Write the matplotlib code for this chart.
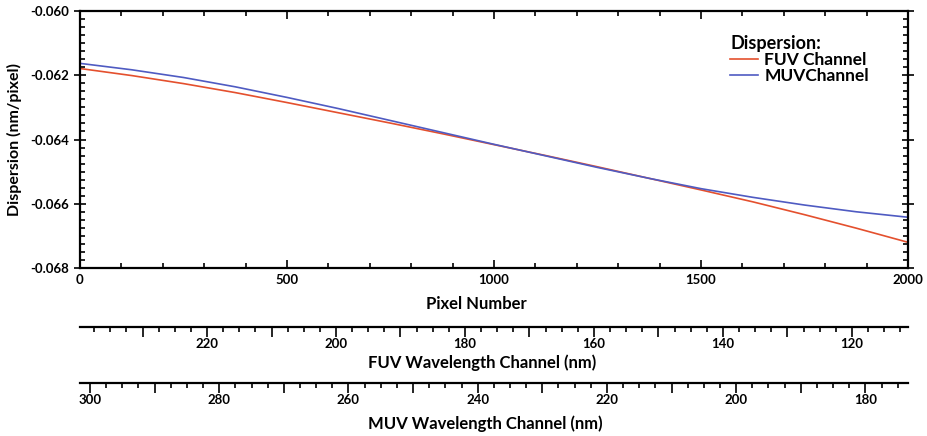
import numpy as np
import matplotlib
matplotlib.use('Agg')
import matplotlib.pyplot as plt
from matplotlib.ticker import MultipleLocator, FormatStrFormatter, FuncFormatter

plt.rcParams['font.family'] = ['Lato', 'DejaVu Sans']
plt.rcParams['font.weight'] = 'bold'

# ------------ data ------------------------------------------ #
pixel = [0, 125, 250, 375, 500, 625, 750, 875, 1000, 1125, 1250, 1375, 1500, 1625, 1750, 1875, 2000]
disp_fuv = [-0.06179, -0.06201, -0.06226, -0.06254, -0.06285, -0.06317, -0.06349, -0.06382, -0.06416,
            -0.06450, -0.06485, -0.06521, -0.06557, -0.06594, -0.06634, -0.06676, -0.06720]
disp_muv = [-0.06163, -0.06183, -0.06207, -0.06236, -0.06269, -0.06304, -0.06341, -0.06378, -0.06415,
            -0.06451, -0.06487, -0.06521, -0.06553, -0.06580, -0.06604, -0.06625, -0.06642]

# wavelength at pixel 0 and pixel 2000 for the two extra axes
fuv_wl_range = [239.7, 111.3]
muv_wl_range = [301.55, 173.4]

labels = ['FUV Channel', 'MUVChannel']
colors = ['#e4502e', '#4f5bc2']
# ------------------------------------------------------------ #

fig = plt.figure(figsize=(9.27, 4.36), dpi=100)
W, H = 927, 436
x0, x1 = 80/W, 908/W
ax = fig.add_axes([x0, 1-268/H, x1-x0, (268-11)/H])

ax.plot(pixel, disp_fuv, c=colors[0], lw=1.2, label=labels[0])
ax.plot(pixel, disp_muv, c=colors[1], lw=1.2, label=labels[1])
ax.set(xlim=(0, 2000), ylim=(-0.068, -0.060))
ax.xaxis.set_major_locator(MultipleLocator(500))
ax.xaxis.set_minor_locator(MultipleLocator(100))
ax.yaxis.set_major_locator(MultipleLocator(0.002))
ax.yaxis.set_minor_locator(MultipleLocator(0.00025))
ax.yaxis.set_major_formatter(FormatStrFormatter('%.3f'))
ax.tick_params(which='both', direction='in', top=True, right=True, labelsize=9.5, width=1.2, pad=4)
ax.tick_params(which='major', length=6)
ax.tick_params(which='minor', length=3.5)
ax.tick_params(axis='y', which='major', direction='inout', length=8)
for s in ax.spines.values():
    s.set_linewidth(1.6)
ax.set_xlabel('Pixel Number', fontsize=12, fontweight='bold')
ax.xaxis.set_label_coords(0.479, -0.11)
ax.set_ylabel('Dispersion (nm/pixel)', fontsize=11.5, fontweight='bold', labelpad=6)

leg = ax.legend(title='Dispersion:', loc='upper left', bbox_to_anchor=(0.775, 0.94), frameon=False,
                fontsize=12.5, handlelength=1.6, handletextpad=0.35, labelspacing=0.0, borderpad=0)
leg.get_title().set_fontsize(13)
leg.get_title().set_fontweight('bold')
leg._legend_box.align = 'left'

# extra wavelength axes under the plot
def wl_axis(ypix, lims, xlabel, label_x, off):
    a = fig.add_axes([x0, 1-ypix/H, x1-x0, 0.0001])
    a.set_xlim(lims)
    a.set_yticks([])
    for side in ['top', 'left', 'right']:
        a.spines[side].set_visible(False)
    a.spines['bottom'].set_linewidth(1.6)
    a.patch.set_visible(False)
    a.xaxis.set_major_locator(MultipleLocator(10))
    a.xaxis.set_minor_locator(MultipleLocator(2.5))
    a.xaxis.set_major_formatter(FuncFormatter(lambda v, p: '%d' % round(v) if round(v) % 20 == 0 else ''))
    a.tick_params(which='major', direction='out', length=5, width=1.2, labelsize=9.5, pad=3)
    a.tick_params(which='minor', direction='out', length=3.5, width=1.2)
    # the 20 nm ticks are longer than the 10 nm ones
    for t in a.xaxis.get_major_ticks():
        if round(t.get_loc()) % 20 == 0:
            t.tick1line.set_markersize(7.5)
    a.set_xlabel(xlabel, fontsize=12, fontweight='bold', va='top')
    a.xaxis.set_label_coords(label_x, 0, transform=a.transAxes +
                             matplotlib.transforms.ScaledTranslation(0, -off/100, fig.dpi_scale_trans))
    return a

ax_fuv = wl_axis(326.5, fuv_wl_range, 'FUV Wavelength Channel (nm)', 0.486, 28)
ax_muv = wl_axis(383, muv_wl_range, 'MUV Wavelength Channel (nm)', 0.49, 32)

fig.savefig('out.png', dpi=100)
